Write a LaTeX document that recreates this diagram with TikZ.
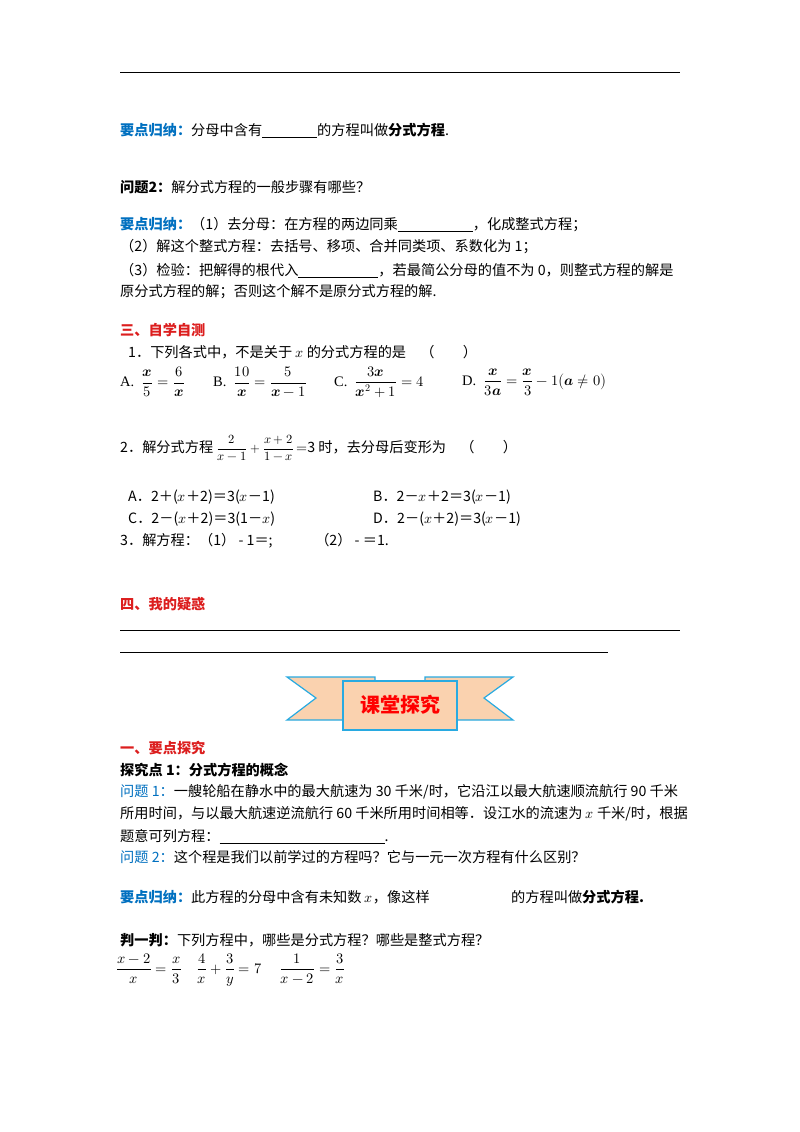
\documentclass[tikz,border=0pt]{standalone}
\usepackage{amsmath}
\usepackage{unicode-math}
\setmainfont{Liberation Serif}
\setmathfont{Latin Modern Math}
\newfontfamily\cjk{Noto Sans CJK SC}
\definecolor{kblue}{RGB}{0,112,192}
\definecolor{kred}{RGB}{220,30,30}
\definecolor{peach}{RGB}{250,210,175}
\definecolor{bline}{RGB}{40,170,225}
\newcommand{\blank}[1]{\rule[-2pt]{#1pt}{0.5pt}}
\begin{document}
\begin{tikzpicture}[x=1pt,y=-1pt,
  t/.style={anchor=west,inner sep=0pt,font=\cjk\fontsize{14.2}{16}\selectfont},
  m/.style={anchor=west,inner sep=0pt,font=\fontsize{14.5}{16}\selectfont}]
\useasboundingbox (0,0) rectangle (800,1132);
\fill[white] (0,0) rectangle (800,1132);
\draw[line width=0.8pt] (120,72) coordinate (l1a) -- (680,72) coordinate (l1b);
\node[t] (a1) at (120,130) {\textcolor{kblue}{\bfseries 要点归纳：}分母中含有\blank{55}的方程叫做\textbf{分式方程}.};
\node[t] (a2) at (120,187) {\bfseries 问题2：\mdseries 解分式方程的一般步骤有哪些？};
\node[t] (a3) at (120,225) {\textcolor{kblue}{\bfseries 要点归纳：}（1）去分母：在方程的两边同乘\blank{75}，化成整式方程；};
\node[t] (a4) at (120,247) {（2）解这个整式方程：去括号、移项、合并同类项、系数化为 1；};
\node[t] (a5) at (120,270) {（3）检验：把解得的根代入\blank{80}，若最简公分母的值不为 0，则整式方程的解是};
\node[t] (a6) at (120,292) {原分式方程的解；否则这个解不是原分式方程的解.};
\node[t,text=kred] (s3) at (120,330) {\bfseries 三、自学自测};
\node[t] (q1) at (128,352) {1．下列各式中，不是关于 $x$ 的分式方程的是\quad （\qquad ）};
\node[m] (oa) at (120,382) {A.\ \ $\dfrac{\symbfit{x}}{5}=\dfrac{6}{\symbfit{x}}$};
\node[m] (ob) at (213,382) {B.\ \ $\dfrac{10}{\symbfit{x}}=\dfrac{5}{\symbfit{x}-1}$};
\node[m] (oc) at (334,382) {C.\ \ $\dfrac{3\symbfit{x}}{\symbfit{x}^2+1}=4$};
\node[m] (od) at (462,382) {D.\ \ $\dfrac{\symbfit{x}}{3\symbfit{a}}=\dfrac{\symbfit{x}}{3}-1\bigl(\symbfit{a}\neq0\bigr)$};
\node[t] (q2) at (120,448) {2．解分式方程 {\fontsize{12.5}{14}\selectfont$\dfrac{2}{x-1}+\dfrac{x+2}{1-x}$}\,$=$3 时，去分母后变形为\quad （\qquad ）};
\node[t] (q2a) at (128,497) {A．2＋($x$＋2)＝3($x$－1)};
\node[t] (q2b) at (373,497) {B．2－$x$＋2＝3($x$－1)};
\node[t] (q2c) at (128,519) {C．2－($x$＋2)＝3(1－$x$)};
\node[t] (q2d) at (373,519) {D．2－($x$＋2)＝3($x$－1)};
\node[t] (q3) at (120,541) {3．解方程：（1） - 1＝;\qquad\quad （2） - ＝1.};
\node[t,text=kred] (s4) at (120,604) {\bfseries 四、我的疑惑};
\draw[line width=0.6pt] (120,630) coordinate (l2a) -- (680,630) coordinate (l2b);
\draw[line width=0.6pt] (120,652) coordinate (l3a) -- (608,652) coordinate (l3b);
% banner
\begin{scope}[line width=1.2pt,draw=bline,fill=peach]
\filldraw (287,677) -- (375,677) -- (375,720) -- (287,720) -- (316,698) -- cycle;
\filldraw (513,677) -- (425,677) -- (425,720) -- (513,720) -- (484,698) -- cycle;
\filldraw (343,681) rectangle (457,730);
\end{scope}
\node[font=\cjk\bfseries\fontsize{20}{22}\selectfont,text=red] (ban) at (400,705) {课堂探究};
\node[t,text=kred] (s1) at (120,748) {\bfseries 一、要点探究};
\node[t] (p1) at (120,770) {\bfseries 探究点 1：分式方程的概念};
\node[t] (b1) at (120,792) {\textcolor{kblue}{问题 1：}一艘轮船在静水中的最大航速为 30 千米/时，它沿江以最大航速顺流航行 90 千米};
\node[t] (b2) at (120,814) {所用时间，与以最大航速逆流航行 60 千米所用时间相等．设江水的流速为 $x$ 千米/时，根据};
\node[t] (b3) at (120,836) {题意可列方程：\blank{165}.};
\node[t] (b4) at (120,857) {\textcolor{kblue}{问题 2：}这个程是我们以前学过的方程吗？它与一元一次方程有什么区别？};
\node[t] (b5) at (120,897) {\textcolor{kblue}{\bfseries 要点归纳：}此方程的分母中含有未知数 $x$，像这样};
\node[t] (b6) at (511,897) {的方程叫做\textbf{分式方程.}};
\node[t] (j1) at (120,940) {\bfseries 判一判：\mdseries 下列方程中，哪些是分式方程？哪些是整式方程？};
\node[m] (f1) at (116,970) {$\dfrac{x-2}{x}=\dfrac{x}{3}\quad\dfrac{4}{x}+\dfrac{3}{y}=7\quad\ \dfrac{1}{x-2}=\dfrac{3}{x}$};
\end{tikzpicture}
\end{document}
